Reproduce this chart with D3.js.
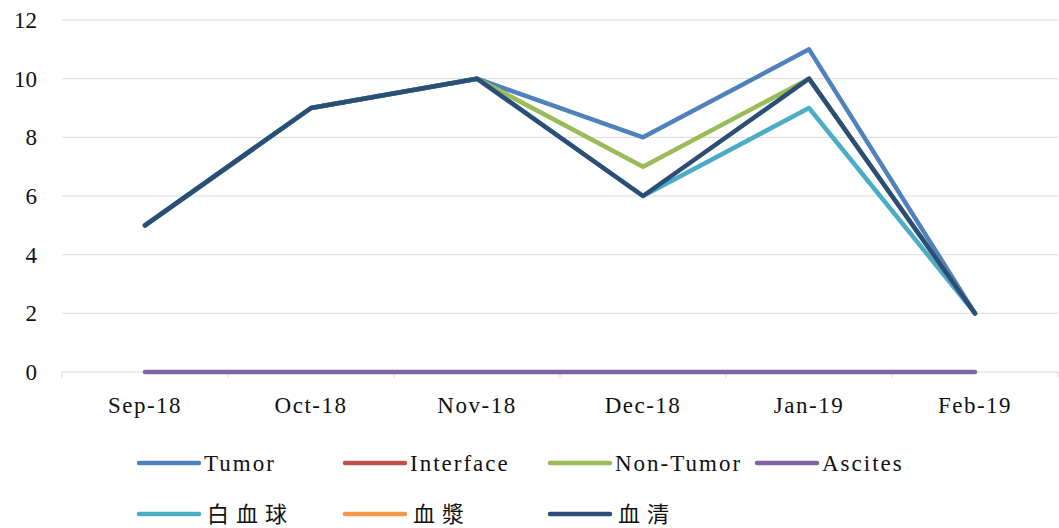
<!DOCTYPE html>
<html>
<head>
<meta charset="utf-8">
<script src="https://cdn.jsdelivr.net/npm/d3@7"></script>
<style>
  body { margin: 0; background: #fff; }
  #plot { width: 1059px; height: 528px; }
</style>
</head>
<body>
<div id="plot"></div>
<script>
// monthly counts per sample type
const months = ['Sep-18', 'Oct-18', 'Nov-18', 'Dec-18', 'Jan-19', 'Feb-19'];
const seriesNames = ['Tumor', 'Interface', 'Non-Tumor', 'Ascites', '白血球', '血漿', '血清'];
const tumor = [5, 9, 10, 8, 11, 2];
const iface = [null, null, null, null, null, null];
const nonTumor = [5, 9, 10, 7, 10, 2];
const ascites = [0, 0, 0, 0, 0, 0];
const wbc = [5, 9, 10, 6, 9, 2];
const plasma = [null, null, null, null, null, null];
const serum = [5, 9, 10, 6, 10, 2];
const yTicks = [0, 2, 4, 6, 8, 10, 12];

const colors = ['#4F81BD', '#C0504D', '#9BBB59', '#8064A2', '#4BACC6', '#F79646', '#2C4D75'];
const allValues = [tumor, iface, nonTumor, ascites, wbc, plasma, serum];

const W = 1059, H = 528;
const margin = { top: 20, right: 1, bottom: 156, left: 62 };
const width = W - margin.left - margin.right;
const height = H - margin.top - margin.bottom;

const svg = d3.select('#plot').append('svg').attr('width', W).attr('height', H);
const g = svg.append('g').attr('transform', `translate(${margin.left},${margin.top})`);

const x = d3.scaleBand().domain(months).range([0, width]);
const y = d3.scaleLinear().domain([0, 12]).range([height, 0]);

// grid
g.append('g')
  .selectAll('line')
  .data(yTicks.filter((t) => t > 0))
  .enter()
  .append('line')
  .attr('x1', 0).attr('x2', width)
  .attr('y1', (d) => y(d)).attr('y2', (d) => y(d))
  .attr('stroke', '#d9d9d9').attr('stroke-width', 1);

// y labels
g.append('g')
  .selectAll('text')
  .data(yTicks)
  .enter()
  .append('text')
  .attr('x', -25)
  .attr('y', (d) => y(d))
  .attr('dy', '0.35em')
  .attr('text-anchor', 'end')
  .style('font-family', '"Liberation Serif", serif')
  .style('font-size', '23px')
  .style('fill', '#111')
  .text((d) => d);

// x axis
const xAxis = g.append('g').attr('transform', `translate(0,${height})`);
xAxis.append('line').attr('x1', 0).attr('x2', width).attr('stroke', '#d9d9d9');
xAxis.selectAll('line.tk')
  .data(months.concat(['end']))
  .enter()
  .append('line')
  .attr('class', 'tk')
  .attr('x1', (d, i) => i * x.bandwidth()).attr('x2', (d, i) => i * x.bandwidth())
  .attr('y1', 0).attr('y2', 6)
  .attr('stroke', '#d9d9d9');
xAxis.selectAll('text')
  .data(months)
  .enter()
  .append('text')
  .attr('x', (d) => x(d) + x.bandwidth() / 2)
  .attr('y', 41)
  .attr('text-anchor', 'middle')
  .style('font-family', '"Liberation Serif", serif')
  .style('font-size', '23px')
  .style('letter-spacing', '1.5px')
  .style('fill', '#111')
  .text((d) => d);

// lines
const line = d3.line()
  .defined((d) => d != null)
  .x((d, i) => x(months[i]) + x.bandwidth() / 2)
  .y((d) => y(d));

allValues.forEach((vals, k) => {
  g.append('path')
    .datum(vals)
    .attr('fill', 'none')
    .attr('stroke', colors[k])
    .attr('stroke-width', 4.5)
    .attr('stroke-linejoin', 'round')
    .attr('stroke-linecap', 'round')
    .attr('d', line);
});

// legend
const legendPos = [
  [137, 463], [343, 463], [548, 463], [755, 463],
  [137, 514], [343, 514], [548, 514]
];
seriesNames.forEach((name, k) => {
  const [lx, ly] = legendPos[k];
  svg.append('line')
    .attr('x1', lx + 2).attr('x2', lx + 62)
    .attr('y1', ly).attr('y2', ly)
    .attr('stroke', colors[k]).attr('stroke-width', 4.5)
    .attr('stroke-linecap', 'round');
  const isCJK = /[\u4e00-\u9fff]/.test(name);
  svg.append('text')
    .attr('x', lx + (isCJK ? 70 : 67))
    .attr('y', ly)
    .attr('dy', '0.35em')
    .style('font-family', isCJK ? '"Noto Sans CJK TC", serif' : '"Liberation Serif", serif')
    .style('font-size', isCJK ? '22px' : '23px')
    .style('letter-spacing', isCJK ? '7px' : '2px')
    .style('fill', '#111')
    .text(name);
});
</script>
</body>
</html>
